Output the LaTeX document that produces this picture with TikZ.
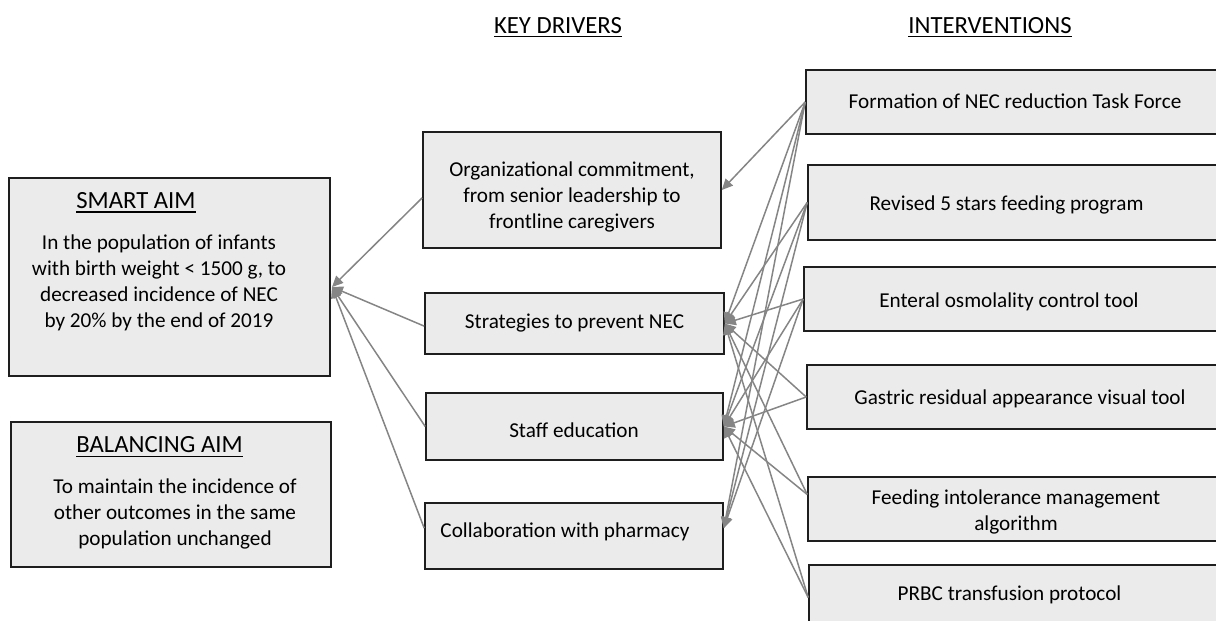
\documentclass[tikz,border=0pt]{standalone}
\usepackage{fontspec}
\setmainfont{Carlito}
\usetikzlibrary{arrows.meta}
\definecolor{boxfill}{HTML}{EBEBEB}
\definecolor{boxline}{HTML}{1E1E1E}
\definecolor{linkgray}{HTML}{858585}
\begin{document}
\begin{tikzpicture}[x=1pt,y=-1pt,
  box/.style={rectangle, draw=boxline, line width=1.6pt, fill=boxfill, inner sep=0pt},
  txt/.style={font=\fontsize{21.2}{25.8}\selectfont, inner sep=0pt, align=center, text=black},
  head/.style={font=\fontsize{24.7}{30}\selectfont, inner sep=0pt, anchor=base, text=black},
  uline/.style={draw=black, line width=1.8pt},
  link/.style={draw=linkgray, line width=1.5pt, -{Triangle[length=11pt,width=10pt]}}
]
\useasboundingbox (0,0) rectangle (1216,621);

% column headings
\node[head] (kd) at (558,33) {KEY DRIVERS};
\node[head] (iv) at (990,33) {INTERVENTIONS};
\draw[uline] ([yshift=-3.5pt]kd.base west) -- ([yshift=-3.5pt]kd.base east);
\draw[uline] ([yshift=-3.5pt]iv.base west) -- ([yshift=-3.5pt]iv.base east);

% aims
\node[box, minimum width=321pt, minimum height=198pt] (smart) at (169.5,277) {};
\node[head] (smarttitle) at (136,208) {SMART AIM};
\draw[uline] ([yshift=-4pt]smarttitle.base west) -- ([yshift=-4pt]smarttitle.base east);
\node[txt] (smartbody) at (159,283) {In the population of infants\\with birth weight < 1500 g, to\\decreased incidence of NEC\\by 20\% by the end of 2019};

\node[box, minimum width=320pt, minimum height=145pt] (balance) at (171,494.5) {};
\node[head] (baltitle) at (159.5,452.5) {BALANCING AIM};
\draw[uline] ([yshift=-4pt]baltitle.base west) -- ([yshift=-4pt]baltitle.base east);
\node[txt] (balbody) at (175,513.7) {To maintain the incidence of\\other outcomes in the same\\population unchanged};

% key drivers
\node[box, minimum width=298pt, minimum height=116pt] (org) at (572,190) {};
\node[txt] at (572,196.7) {Organizational commitment,\\from senior leadership to\\frontline caregivers};
\node[box, minimum width=299pt, minimum height=61pt] (strat) at (574.5,323.5) {};
\node[txt, anchor=base] at (574.5,328) {Strategies to prevent NEC};
\node[box, minimum width=297pt, minimum height=67pt] (staff) at (574.5,426.5) {};
\node[txt, anchor=base] at (574,437) {Staff education};
\node[box, minimum width=298pt, minimum height=66pt] (collab) at (574,536) {};
\node[txt, anchor=base] at (565,537) {Collaboration with pharmacy};

% interventions
\node[box, minimum width=416pt, minimum height=64pt] (form) at (1014,102) {};
\node[txt, anchor=base] at (1015,108) {Formation of NEC reduction Task Force};
\node[box, minimum width=414pt, minimum height=75pt] (rev) at (1015,202.5) {};
\node[txt, anchor=base] at (1006.5,210) {Revised 5 stars feeding program};
\node[box, minimum width=418pt, minimum height=64pt] (ent) at (1013,299) {};
\node[txt, anchor=base] at (1009,307) {Enteral osmolality control tool};
\node[box, minimum width=415pt, minimum height=64pt] (gas) at (1014.5,397) {};
\node[txt, anchor=base] at (1020,404) {Gastric residual appearance visual tool};
\node[box, minimum width=414pt, minimum height=64pt] (feed) at (1015,509) {};
\node[txt] at (1016,512) {Feeding intolerance management\\algorithm};
\node[box, minimum width=413pt, minimum height=65pt] (prbc) at (1015.5,597.5) {};
\node[txt, anchor=base] at (1009.5,600) {PRBC transfusion protocol};

% key drivers feed the aim
\coordinate (aimin) at (332,287);
\draw[link] (org.183.5) -- (aimin);
\draw[link] (strat.181.7) -- (aimin);
\draw[link] (staff.west) -- (aimin);
\draw[link] (collab.177.7) -- (aimin);

% interventions support the key drivers
\draw[link] (form.west) -- (org.east);
\draw[link] (form.west) -- (strat.east);
\draw[link] (form.west) -- (staff.east);
\draw[link] (form.west) -- (collab.3);
\draw[link] (rev.west) -- (strat.east);
\draw[link] (rev.west) -- (staff.east);
\draw[link] (rev.west) -- (collab.3);
\draw[link] (ent.west) -- (strat.east);
\draw[link] (ent.west) -- (staff.east);
\draw[link] (ent.west) -- (collab.3);
\draw[link] (gas.west) -- (strat.east);
\draw[link] (gas.west) -- (staff.east);
\draw[link] (feed.176.6) -- (strat.east);
\draw[link] (feed.176.6) -- (staff.east);
\draw[link] (prbc.west) -- (strat.east);
\draw[link] (prbc.west) -- (staff.east);
\end{tikzpicture}
\end{document}
